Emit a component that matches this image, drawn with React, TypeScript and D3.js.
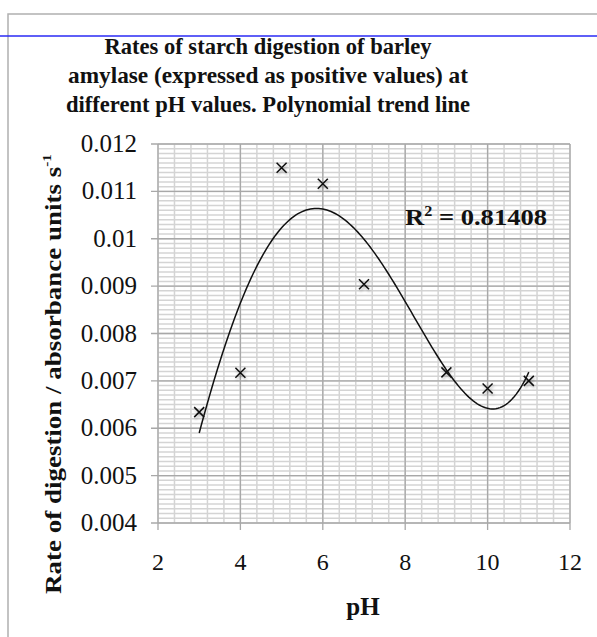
import React from "react";
import * as d3 from "d3";

const phValues = [3, 4, 5, 6, 7, 9, 10, 11];
const rates = [0.00634, 0.00717, 0.0115, 0.01116, 0.00904, 0.00718, 0.00684, 0.007];
const xTicks = [2, 4, 6, 8, 10, 12];
const yTicks = [0.004, 0.005, 0.006, 0.007, 0.008, 0.009, 0.01, 0.011, 0.012];
const yTickLabels = ["0.004", "0.005", "0.006", "0.007", "0.008", "0.009", "0.01", "0.011", "0.012"];
const titleLines = [
  "Rates of starch digestion of barley",
  "amylase (expressed as positive values) at",
  "different pH values. Polynomial trend line",
];
const rSquaredLabel = "0.81408";
const trendDegree = 4;

function polyFit(xs: number[], ys: number[], deg: number): number[] {
  const n = deg + 1;
  const A: number[][] = [];
  for (let i = 0; i < n; i++) {
    const row: number[] = [];
    for (let j = 0; j < n; j++) row.push(d3.sum(xs, (x) => Math.pow(x, i + j)));
    row.push(d3.sum(xs, (x, k) => ys[k] * Math.pow(x, i)));
    A.push(row);
  }
  for (let c = 0; c < n; c++) {
    let p = c;
    for (let r = c + 1; r < n; r++) if (Math.abs(A[r][c]) > Math.abs(A[p][c])) p = r;
    [A[c], A[p]] = [A[p], A[c]];
    for (let r = 0; r < n; r++) {
      if (r === c) continue;
      const f = A[r][c] / A[c][c];
      for (let k = c; k <= n; k++) A[r][k] -= f * A[c][k];
    }
  }
  return A.map((row, i) => row[n] / row[i]);
}
const evalPoly = (co: number[], x: number) => co.reduce((s, c, i) => s + c * Math.pow(x, i), 0);

export default function App() {
  const W = 597, H = 637;
  const x = d3.scaleLinear().domain([2, 12]).range([158, 570]);
  const y = d3.scaleLinear().domain([0.004, 0.012]).range([523, 144]);

  const minorX = d3.range(2, 12.001, 0.4);
  const minorY = d3.range(0.004, 0.01201, 0.0001);

  const coeffs = polyFit(phValues, rates, trendDegree);
  const xsCurve = d3.range(d3.min(phValues)!, d3.max(phValues)! + 0.0001, 0.05);
  const trendPath =
    d3.line<number>().x((d) => x(d)).y((d) => y(evalPoly(coeffs, d)))(xsCurve) || "";

  const titleWidths = [327, 400, 404];
  const serif = "'Liberation Serif', 'Times New Roman', serif";
  return (
    <svg width={W} height={H} style={{ position: "absolute", left: 0, top: 0, background: "#fff" }}>
      <defs>
        <filter id="sh" x="-50%" y="-50%" width="200%" height="200%">
          <feDropShadow dx="1" dy="2" stdDeviation="1.5" floodColor="#000" floodOpacity="0.3" />
        </filter>
      </defs>
      <rect x={8} y={14} width={W} height={H} fill="none" stroke="#b0b0b0" strokeWidth={1.5} />
      <line x1={0} x2={W} y1={36} y2={36} stroke="#2a2af5" strokeWidth={1.3} />
      {titleLines.map((t, i) => (
        <text key={i} x={268} y={54 + i * 29} textAnchor="middle" fontFamily={serif} fontWeight="bold" fontSize={23.5}
          textLength={titleWidths[i]} lengthAdjust="spacingAndGlyphs" fill="#111">
          {t}
        </text>
      ))}
      {minorX.map((v, i) => (
        <line key={"mx" + i} x1={x(v)} x2={x(v)} y1={y(0.012)} y2={y(0.004)} stroke="#d4d4d4" strokeWidth={1.5} />
      ))}
      {minorY.map((v, i) => (
        <line key={"my" + i} x1={x(2)} x2={x(12)} y1={y(v)} y2={y(v)} stroke="#d4d4d4" strokeWidth={1.5} />
      ))}
      {xTicks.map((v) => (
        <line key={"Mx" + v} x1={x(v)} x2={x(v)} y1={y(0.012)} y2={y(0.004) + 7} stroke="#a8a8a8" strokeWidth={1.3} />
      ))}
      {yTicks.map((v) => (
        <line key={"My" + v} x1={x(2) - 7} x2={x(12)} y1={y(v)} y2={y(v)} stroke="#a8a8a8" strokeWidth={1.3} />
      ))}
      {yTicks.map((v, i) => (
        <text key={"yl" + v} x={137} y={y(v) + 8} textAnchor="end" fontFamily={serif} fontSize={25} fill="#111">
          {yTickLabels[i]}
        </text>
      ))}
      {xTicks.map((v) => (
        <text key={"xl" + v} x={x(v)} y={570} textAnchor="middle" fontFamily={serif} fontSize={24} fill="#111">
          {v}
        </text>
      ))}
      <text x={363} y={615} textAnchor="middle" fontFamily={serif} fontWeight="bold" fontSize={25} fill="#111">pH</text>
      <text transform="translate(61,374) rotate(-90)" textAnchor="middle" fontFamily={serif} fontWeight="bold" fontSize={23}
        textLength={440} lengthAdjust="spacingAndGlyphs" fill="#111">
        Rate of digestion / absorbance units s<tspan fontSize={13} dy={-10}>-1</tspan>
      </text>
      <path d={trendPath} fill="none" stroke="#111" strokeWidth={1.5} />
      {phValues.map((p, i) => {
        const cx = x(p), cy = y(rates[i]);
        return (
          <path key={"pt" + i} d={`M${cx - 5},${cy - 5}L${cx + 5},${cy + 5}M${cx - 5},${cy + 5}L${cx + 5},${cy - 5}`}
            stroke="#111" strokeWidth={1.5} filter="url(#sh)" />
        );
      })}
      <text x={405} y={225} fontFamily={serif} fontWeight="bold" fontSize={23} textLength={142} lengthAdjust="spacingAndGlyphs" fill="#111">
        R<tspan fontSize={14} dy={-9}>2</tspan><tspan dy={9}> = {rSquaredLabel}</tspan>
      </text>
    </svg>
  );
}
